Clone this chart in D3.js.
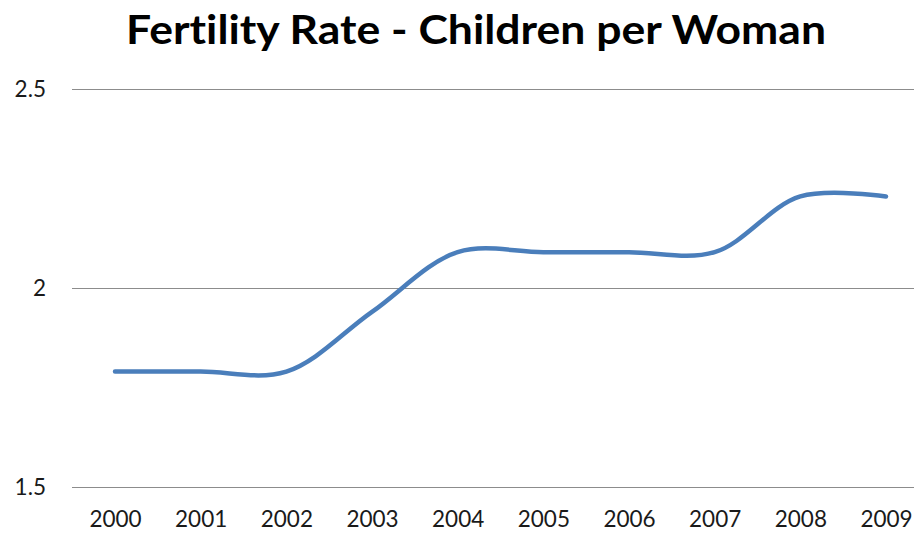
<!DOCTYPE html>
<html>
<head>
<meta charset="utf-8">
<script src="https://cdn.jsdelivr.net/npm/d3@7"></script>
<style>
  html, body { margin: 0; padding: 0; background: #fff; }
  svg { display: block; }
  text { font-variant-ligatures: none; font-feature-settings: "liga" 0, "clig" 0; }
</style>
</head>
<body>
<svg id="chart" width="914" height="533"></svg>
<script>
const title = "Fertility Rate - Children per Woman";
const years = ["2000","2001","2002","2003","2004","2005","2006","2007","2008","2009"];
const fertility = [1.79, 1.79, 1.79, 1.94, 2.09, 2.09, 2.09, 2.09, 2.23, 2.23];
const yTicks = [1.5, 2, 2.5];
const yTickLabels = ["1.5", "2", "2.5"];

const svg = d3.select("#chart");
const W = 914, H = 533;
const FONT = "Lato, 'Open Sans', sans-serif";

const x = d3.scalePoint().domain(years).range([115, 886]);
const y = d3.scaleLinear().domain([1.5, 2.5]).range([487, 89]);

// title
svg.append("text")
  .attr("x", 126).attr("y", 44)
  .attr("textLength", 700)
  .attr("lengthAdjust", "spacingAndGlyphs")
  .style("font-family", FONT)
  .style("font-weight", "bold")
  .style("font-size", "41px")
  .style("fill", "#000")
  .text(title);

// gridlines + y labels
const yAxis = d3.axisLeft(y).tickValues(yTicks).tickSize(-(W - 72)).tickFormat((d, i) => yTickLabels[i]);
const gy = svg.append("g").attr("transform", "translate(72,0)").call(yAxis);
gy.select(".domain").remove();
gy.selectAll(".tick line").attr("stroke", "#8c8c8c").attr("stroke-width", 1.2).attr("x1", 0);
gy.selectAll(".tick text")
  .attr("x", -26)
  .attr("dy", "0.35em")
  .style("font-family", FONT)
  .style("font-size", "22.5px")
  .style("fill", "#1a1a1a");

// x axis labels
const xAxis = d3.axisBottom(x).tickSize(0).tickPadding(0);
const gx = svg.append("g").attr("transform", "translate(0,487)").call(xAxis);
gx.select(".domain").remove();
gx.selectAll(".tick text")
  .attr("y", 40)
  .attr("dy", 0)
  .style("font-family", FONT)
  .style("font-size", "22.5px")
  .style("fill", "#1a1a1a");

// line
const line = d3.line()
  .x((d, i) => x(years[i]))
  .y(d => y(d))
  .curve(d3.curveCatmullRom.alpha(0.5));

svg.append("path")
  .datum(fertility)
  .attr("d", line)
  .attr("fill", "none")
  .attr("stroke", "#4a7ebb")
  .attr("stroke-width", 4.5)
  .attr("stroke-linecap", "round")
  .attr("stroke-linejoin", "round");
</script>
</body>
</html>
